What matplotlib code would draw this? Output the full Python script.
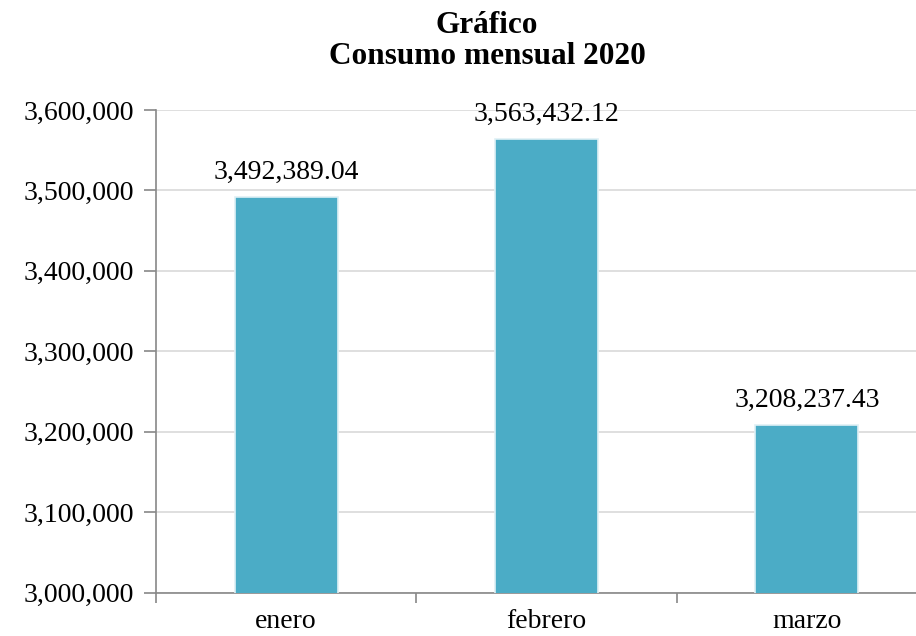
import numpy as np
import matplotlib.pyplot as plt
from matplotlib.ticker import FuncFormatter

# datos del grafico
meses = ["enero", "febrero", "marzo"]
consumo = [3492389.04, 3563432.12, 3208237.43]
yticks = [3000000, 3100000, 3200000, 3300000, 3400000, 3500000, 3600000]

plt.rcParams['font.family'] = ['Liberation Serif', 'DejaVu Serif']

fig = plt.figure(figsize=(9.16, 6.36), dpi=100)
ax = fig.add_axes([156/916, 1 - 592.5/636, (937-156)/916, (592.5-110)/636])

x = np.arange(len(meses))
ax.bar(x, consumo, width=0.395, color='#4BACC6', edgecolor='#dff0f5',
       linewidth=1.2, zorder=3)

# etiquetas de valor
for xi, v in zip(x, consumo):
    ax.annotate(f"{v:,.2f}", (xi, v), xytext=(0, 13), textcoords='offset points',
                ha='center', va='baseline', fontsize=20)

ax.set_xlim(-0.5, 2.5)
ax.set_ylim(3000000, 3600000)
ax.set_yticks(yticks)
ax.yaxis.set_major_formatter(FuncFormatter(lambda v, p: f"{int(v):,}"))
ax.set_xticks(x)
ax.set_xticklabels(meses)
ax.set_xticks([-0.5, 0.5, 1.5, 2.5], minor=True)

ax.tick_params(axis='x', which='major', length=0, pad=12, labelsize=20)
ax.tick_params(axis='x', which='minor', length=7, width=1.2, color='#888888')
ax.tick_params(axis='y', length=9, width=1.2, color='#888888', labelsize=20, pad=7)

ax.grid(axis='y', color='#d9d9d9', linewidth=1.2, zorder=0)
for s in ['top', 'right']:
    ax.spines[s].set_visible(False)
for s in ['left', 'bottom']:
    ax.spines[s].set_color('#888888')
    ax.spines[s].set_linewidth(1.2)

fig.text(487/916, 1 - 41/636, "Gráfico\nConsumo mensual 2020", ha='center',
         va='center', fontsize=22.5, fontweight='bold', linespacing=1.12)

fig.savefig("out.png", dpi=100)
